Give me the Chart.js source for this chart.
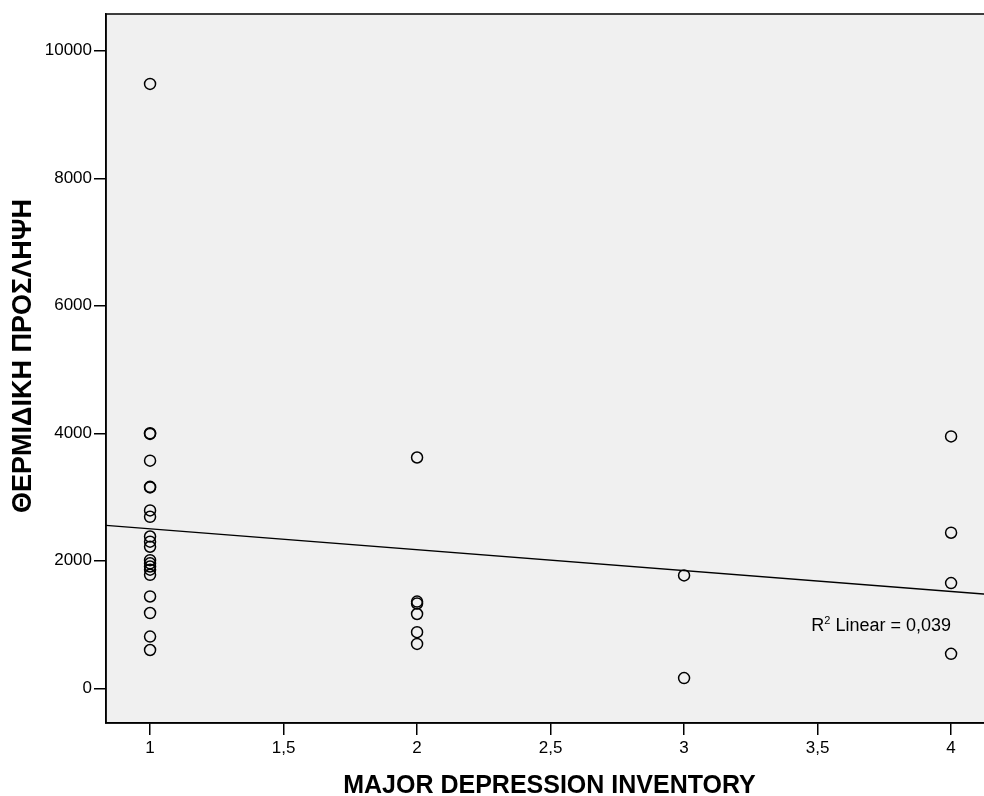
<!DOCTYPE html>
<html>
<head>
<meta charset="utf-8">
<script src="https://cdn.jsdelivr.net/npm/chart.js@4"></script>
<style>
  html, body { margin: 0; padding: 0; background: #fff; overflow: hidden; }
  #wrap { width: 1000px; height: 796px; }
</style>
</head>
<body>
<div id="wrap"><canvas id="grafico"></canvas></div>
<script>
// datos
const mdi = [1, 1, 1, 1, 1, 1, 1, 1, 1, 1, 1, 1, 1, 1, 1, 1, 1, 1, 1, 1,
             2, 2, 2, 2, 2, 2,
             3, 3,
             4, 4, 4, 4];
const calorias = [9480, 4000, 3990, 3570, 3160, 3150, 2790, 2690, 2380, 2300, 2220, 2010, 1960, 1910, 1860, 1780, 1440, 1180, 810, 600,
                  3620, 1360, 1330, 1165, 880, 695,
                  1770, 160,
                  3950, 2440, 1650, 540];
const xTicks = [1, 1.5, 2, 2.5, 3, 3.5, 4];
const yTicks = [0, 2000, 4000, 6000, 8000, 10000];
const xMin = 0.835, xMax = 4.157;
const yMin = -545, yMax = 10577;
const xTitulo = 'MAJOR DEPRESSION INVENTORY';
const yTitulo = 'ΘΕΡΜΙΔΙΚΗ ΠΡΟΣΛΗΨΗ';
const r2Text = 'Linear = 0,039';

// puntos
const puntos = mdi.map((x, i) => ({ x: x, y: calorias[i] }));

// recta de regresion (minimos cuadrados)
const n = mdi.length;
const mx = mdi.reduce((a, b) => a + b, 0) / n;
const my = calorias.reduce((a, b) => a + b, 0) / n;
let sxy = 0, sxx = 0;
mdi.forEach((x, i) => { sxy += (x - mx) * (calorias[i] - my); sxx += (x - mx) * (x - mx); });
const pendiente = sxy / sxx;
const intercepto = my - pendiente * mx;
const recta = [xMin, xMax].map(x => ({ x: x, y: intercepto + pendiente * x }));

const fuente = '"Liberation Sans", Arial, sans-serif';

const fondo = {
  id: 'fondo',
  beforeDraw(chart) {
    const { ctx, chartArea: a } = chart;
    ctx.save();
    ctx.fillStyle = '#f0f0f0';
    ctx.fillRect(a.left, a.top, a.right - a.left, a.bottom - a.top);
    ctx.restore();
  },
  afterDraw(chart) {
    const { ctx, chartArea: a, scales } = chart;
    ctx.save();
    ctx.strokeStyle = '#000';
    ctx.lineWidth = 1.5;
    ctx.strokeRect(a.left, a.top, a.right - a.left, a.bottom - a.top);

    // titulo del eje y
    ctx.save();
    ctx.translate(24, 356);
    ctx.rotate(-Math.PI / 2);
    ctx.fillStyle = '#000';
    ctx.font = 'bold 27px ' + fuente;
    ctx.textAlign = 'center';
    ctx.textBaseline = 'middle';
    ctx.fillText(yTitulo, 0, 0);
    ctx.restore();

    // etiqueta R2
    const xr = scales.x.getPixelForValue(4);
    const yr = scales.y.getPixelForValue(980);
    ctx.fillStyle = '#000';
    ctx.textBaseline = 'middle';
    ctx.font = '18px ' + fuente;
    const wMain = ctx.measureText(' ' + r2Text).width;
    const wR = ctx.measureText('R').width;
    ctx.font = '11px ' + fuente;
    const wSup = ctx.measureText('2').width;
    const x0 = xr - wMain - wSup - wR;
    ctx.textAlign = 'left';
    ctx.font = '18px ' + fuente;
    ctx.fillText('R', x0, yr);
    ctx.font = '11px ' + fuente;
    ctx.fillText('2', x0 + wR, yr - 5);
    ctx.font = '18px ' + fuente;
    ctx.fillText(' ' + r2Text, x0 + wR + wSup, yr);
    ctx.restore();
  }
};

const ctx = document.getElementById('grafico').getContext('2d');
new Chart(ctx, {
  type: 'scatter',
  data: {
    datasets: [
      {
        data: puntos,
        pointStyle: 'circle',
        pointRadius: 5.5,
        pointHoverRadius: 5.5,
        borderColor: '#000',
        backgroundColor: 'rgba(0,0,0,0)',
        borderWidth: 1.5
      },
      {
        type: 'line',
        data: recta,
        borderColor: '#000',
        borderWidth: 1.3,
        pointRadius: 0,
        fill: false
      }
    ]
  },
  options: {
    responsive: true,
    maintainAspectRatio: false,
    animation: false,
    layout: { padding: { top: 14, right: 5, left: 0, bottom: 0 } },
    plugins: { legend: { display: false }, tooltip: { enabled: false } },
    scales: {
      x: {
        type: 'linear',
        min: xMin,
        max: xMax,
        afterBuildTicks: s => { s.ticks = xTicks.map(v => ({ value: v })); },
        afterFit: s => { s.height = 73; },
        grid: { drawOnChartArea: false, drawTicks: true, tickLength: 12, color: '#000', lineWidth: 1.5 },
        border: { display: true, color: '#000', width: 1.5 },
        ticks: {
          color: '#000',
          padding: 3,
          font: { family: fuente, size: 17 },
          callback: v => String(v).replace('.', ',')
        },
        title: {
          display: true,
          text: xTitulo,
          color: '#000',
          padding: { top: 0, bottom: -3 },
          font: { family: fuente, size: 25, weight: 'bold', lineHeight: 1 }
        }
      },
      y: {
        type: 'linear',
        min: yMin,
        max: yMax,
        afterBuildTicks: s => { s.ticks = yTicks.map(v => ({ value: v })); },
        afterFit: s => { s.width = 106; },
        grid: { drawOnChartArea: false, drawTicks: true, tickLength: 12, color: '#000', lineWidth: 1.5 },
        border: { display: true, color: '#000', width: 1.5 },
        ticks: {
          color: '#000',
          padding: 2,
          font: { family: fuente, size: 17 },
          callback: v => String(v)
        },
        title: { display: false }
      }
    }
  },
  plugins: [fondo]
});
</script>
</body>
</html>
